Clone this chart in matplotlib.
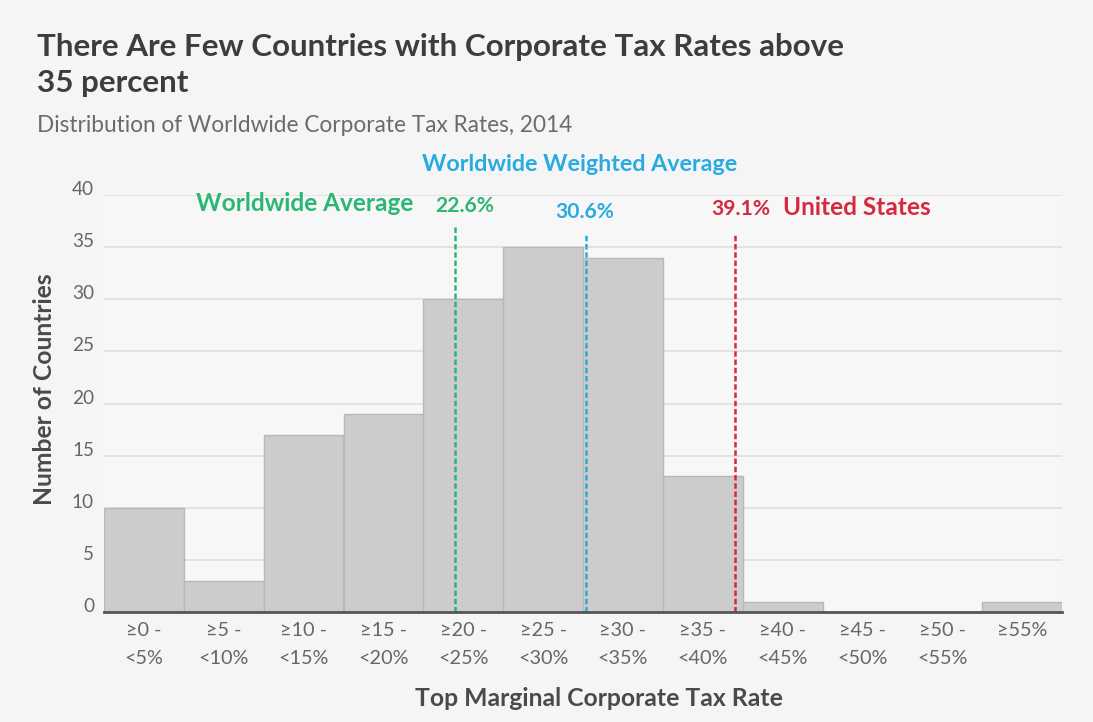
import matplotlib
matplotlib.use("Agg")
import matplotlib.pyplot as plt
from matplotlib.font_manager import FontProperties

categories = ["≥0 -\n<5%", "≥5 -\n<10%", "≥10 -\n<15%", "≥15 -\n<20%", "≥20 -\n<25%",
              "≥25 -\n<30%", "≥30 -\n<35%", "≥35 -\n<40%", "≥40 -\n<45%", "≥45 -\n<50%",
              "≥50 -\n<55%", "≥55%"]
counts = [10, 3, 17, 19, 30, 35, 34, 13, 1, 0, 0, 1]
yticks = [0, 5, 10, 15, 20, 25, 30, 35, 40]

# reference lines: (position in bin units, top value)
avg_pos, avg_top = 4.40, 36.9
wavg_pos, wavg_top = 6.04, 36.3
us_pos, us_top = 7.907, 36.3

FAM = ['Lato', 'DejaVu Sans']
plt.rcParams['font.family'] = FAM

BG = "#f5f5f5"
GREEN = "#2bb673"
BLUE = "#29abe2"
RED = "#d42a40"

W, H = 1093, 722
fig = plt.figure(figsize=(W / 100, H / 100), dpi=100, facecolor=BG)
renderer = fig.canvas.get_renderer()


def fit(text, target_px, weight="normal", base=20.0):
    fp = FontProperties(family=FAM, size=base, weight=weight)
    w, h, d = renderer.get_text_width_height_descent(text, fp, ismath=False)
    return base * target_px / w


# axes: x from 104 to 1062 px, y from 195 (40) to 612 (0)
ax = fig.add_axes([104 / W, 1 - 612 / H, (1062 - 104) / W, (612 - 195) / H])
ax.set_facecolor("#f7f7f7")

x = list(range(len(counts)))
ax.bar([i + 0.5 for i in x], counts, width=1.0, color="#cccccc", edgecolor="#b8b8b8",
       linewidth=1.0, zorder=2)

ax.set_xlim(0, len(counts))
ax.set_ylim(0, 40)
ax.set_yticks(yticks)
ax.set_xticks([i + 0.5 for i in x])

xt_size = fit("<5%", 39)
fp_lp = FontProperties(family=FAM, size=xt_size)
_, lh, ld = renderer.get_text_width_height_descent("lp", fp_lp, ismath=False)
ls = 25.0 / (lh - ld)
ax.set_xticklabels(categories, fontsize=xt_size, color="#666666", linespacing=ls)
yt_size = fit("30", 22)
ax.set_yticklabels([str(v) for v in yticks], fontsize=yt_size, color="#666666")
for lab in ax.get_yticklabels():
    lab.set_verticalalignment("baseline")
ax.tick_params(axis='y', length=0, pad=7.2)
ax.tick_params(axis='x', length=0, pad=7)
ax.yaxis.grid(True, color="#dedede", linewidth=1.2, zorder=0)
ax.set_axisbelow(True)
for s in ["top", "right", "left"]:
    ax.spines[s].set_visible(False)
ax.spines["bottom"].set_color("#555555")
ax.spines["bottom"].set_linewidth(2)
ax.spines["bottom"].set_zorder(4)

dash = (0, (2.2, 1.1))
ax.plot([avg_pos, avg_pos], [0, avg_top], color=GREEN, linestyle=dash, linewidth=1.8, zorder=3)
ax.plot([wavg_pos, wavg_pos], [0, wavg_top], color=BLUE, linestyle=dash, linewidth=1.8, zorder=3)
ax.plot([us_pos, us_pos], [0, us_top], color=RED, linestyle=dash, linewidth=1.8, zorder=3)

# axis titles
fig.text(598.5 / W, 1 - 706 / H, "Top Marginal Corporate Tax Rate",
         fontsize=fit("Top Marginal Corporate Tax Rate", 367, "bold"), fontweight="bold",
         color="#4a4a4a", ha="center", va="baseline")
fig.text(45 / W, 1 - 389 / H, "Number of Countries",
         fontsize=fit("Number of Countries", 232, "bold"), fontweight="bold",
         color="#4a4a4a", ha="center", va="center", rotation=90)

# annotations
num_size = fit("22.6%", 59, "bold")
ax.text(3.872, 38.42, "Worldwide Average", color=GREEN,
        fontsize=fit("Worldwide Average", 218, "bold"), fontweight="bold",
        ha="right", va="baseline", clip_on=False)
ax.text(4.148, 38.33, "22.6%", color=GREEN, fontsize=num_size, fontweight="bold",
        ha="left", va="baseline", clip_on=False)
ax.text(5.963, 42.27, "Worldwide Weighted Average", color=BLUE,
        fontsize=fit("Worldwide Weighted Average", 316, "bold"), fontweight="bold",
        ha="center", va="baseline", clip_on=False)
ax.text(5.652, 37.75, "30.6%", color=BLUE, fontsize=num_size, fontweight="bold",
        ha="left", va="baseline", clip_on=False)
ax.text(7.607, 38.04, "39.1%", color=RED, fontsize=num_size, fontweight="bold",
        ha="left", va="baseline", clip_on=False)
ax.text(8.505, 38.04, "United States", color=RED,
        fontsize=fit("United States", 148, "bold"), fontweight="bold",
        ha="left", va="baseline", clip_on=False)

title1 = "There Are Few Countries with Corporate Tax Rates above"
title2 = "35 percent"
t_size = fit(title1, 810, "bold")
fig.text(37 / W, 1 - 56 / H, title1, fontsize=t_size, fontweight="bold",
         color="#3d3d3d", ha="left", va="baseline")
fig.text(37 / W, 1 - 92 / H, title2, fontsize=t_size, fontweight="bold",
         color="#3d3d3d", ha="left", va="baseline")
sub = "Distribution of Worldwide Corporate Tax Rates, 2014"
fig.text(37 / W, 1 - 132 / H, sub, fontsize=fit(sub, 536), color="#6b6b6b",
         ha="left", va="baseline")

fig.savefig("out.png", dpi=100, facecolor=BG)
